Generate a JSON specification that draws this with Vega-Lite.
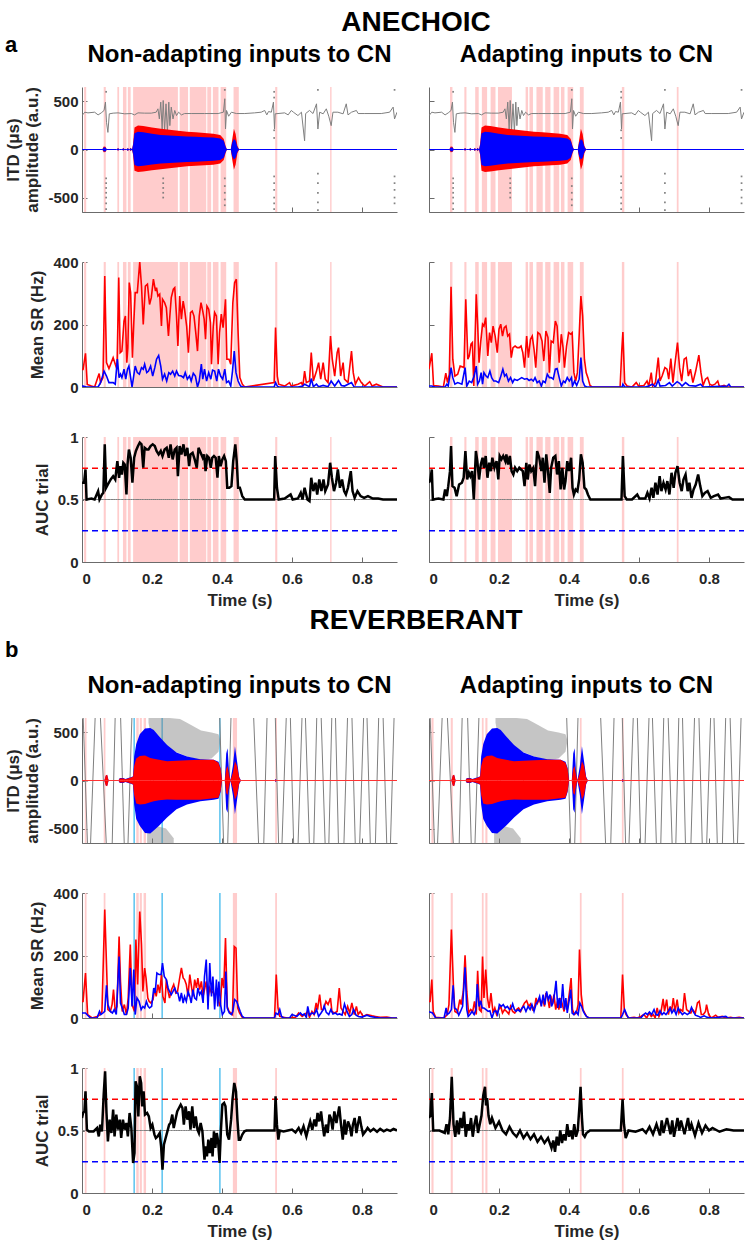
{
"$schema":"https://vega.github.io/schema/vega-lite/v6.json",
"background":"white",
"padding":{"left":4,"top":8,"right":2,"bottom":2},
"config":{
 "view":{"stroke":null},
 "font":"Liberation Sans",
 "title":{"font":"Liberation Sans","fontWeight":"bold","color":"#000000","fontSize":24},
 "axis":{"grid":false,"labelFont":"Liberation Sans","labelFontWeight":"bold","labelFontSize":15,"labelColor":"#262626","titleFont":"Liberation Sans","titleFontWeight":"bold","titleFontSize":17,"titleColor":"#262626","domainColor":"#6b6b6b","tickColor":"#6b6b6b","tickSize":-5,"titlePadding":6},
 "axisY":{"labelPadding":9},
 "axisX":{"labelPadding":14}
},
"datasets":{
"pink_aL":[{"t":0.006,"e":0.012},{"t":0.062,"e":0.068},{"t":0.101,"e":0.106},{"t":0.117,"e":0.127},{"t":0.131,"e":0.139},{"t":0.146,"e":0.274},{"t":0.279,"e":0.303},{"t":0.308,"e":0.355},{"t":0.358,"e":0.369},{"t":0.374,"e":0.390},{"t":0.396,"e":0.412},{"t":0.433,"e":0.448},{"t":0.552,"e":0.558},{"t":0.709,"e":0.713}],
"pink_aR":[{"t":0.060,"e":0.067},{"t":0.101,"e":0.107},{"t":0.132,"e":0.142},{"t":0.151,"e":0.166},{"t":0.176,"e":0.190},{"t":0.197,"e":0.237},{"t":0.276,"e":0.283},{"t":0.287,"e":0.297},{"t":0.307,"e":0.325},{"t":0.332,"e":0.347},{"t":0.356,"e":0.372},{"t":0.377,"e":0.387},{"t":0.396,"e":0.412},{"t":0.431,"e":0.442},{"t":0.551,"e":0.558},{"t":0.708,"e":0.713}],
"pink_bL":[{"t":0.008,"e":0.013},{"t":0.062,"e":0.067},{"t":0.155,"e":0.162},{"t":0.165,"e":0.171},{"t":0.176,"e":0.183},{"t":0.431,"e":0.443},{"t":0.552,"e":0.557}],
"cyan_bL":[{"t":0.147,"e":0.151},{"t":0.227,"e":0.231},{"t":0.392,"e":0.396}],
"pink_bR":[{"t":0.007,"e":0.013},{"t":0.062,"e":0.068},{"t":0.151,"e":0.156},{"t":0.161,"e":0.167},{"t":0.431,"e":0.436},{"t":0.551,"e":0.556}],
"itd_a":[{"t":0.000,"v":353},{"t":0.008,"v":388},{"t":0.017,"v":381},{"t":0.036,"v":388},{"t":0.046,"v":360},{"t":0.055,"v":381},{"t":0.063,"v":406},{"t":0.067,"v":493},{"t":0.070,"v":283},{"t":0.074,"v":178},{"t":0.078,"v":371},{"t":0.089,"v":378},{"t":0.103,"v":381},{"t":0.122,"v":371},{"t":0.141,"v":374},{"t":0.150,"v":360},{"t":0.160,"v":381},{"t":0.179,"v":378},{"t":0.198,"v":378},{"t":0.212,"v":388},{"t":0.217,"v":423},{"t":0.221,"v":318},{"t":0.225,"v":493},{"t":0.229,"v":213},{"t":0.232,"v":510},{"t":0.236,"v":196},{"t":0.240,"v":475},{"t":0.244,"v":178},{"t":0.248,"v":493},{"t":0.251,"v":248},{"t":0.255,"v":441},{"t":0.260,"v":318},{"t":0.265,"v":406},{"t":0.270,"v":353},{"t":0.276,"v":388},{"t":0.284,"v":360},{"t":0.293,"v":374},{"t":0.312,"v":374},{"t":0.350,"v":374},{"t":0.389,"v":374},{"t":0.404,"v":388},{"t":0.408,"v":528},{"t":0.410,"v":213},{"t":0.413,"v":406},{"t":0.419,"v":346},{"t":0.427,"v":388},{"t":0.441,"v":374},{"t":0.465,"v":374},{"t":0.493,"v":381},{"t":0.512,"v":388},{"t":0.522,"v":406},{"t":0.528,"v":360},{"t":0.533,"v":395},{"t":0.541,"v":388},{"t":0.547,"v":493},{"t":0.550,"v":213},{"t":0.552,"v":371},{"t":0.560,"v":374},{"t":0.579,"v":381},{"t":0.589,"v":360},{"t":0.598,"v":406},{"t":0.604,"v":388},{"t":0.617,"v":353},{"t":0.627,"v":388},{"t":0.636,"v":91},{"t":0.639,"v":374},{"t":0.650,"v":406},{"t":0.660,"v":374},{"t":0.670,"v":475},{"t":0.674,"v":213},{"t":0.679,"v":388},{"t":0.689,"v":371},{"t":0.698,"v":423},{"t":0.705,"v":346},{"t":0.712,"v":248},{"t":0.717,"v":388},{"t":0.731,"v":388},{"t":0.746,"v":371},{"t":0.755,"v":475},{"t":0.760,"v":360},{"t":0.770,"v":388},{"t":0.784,"v":406},{"t":0.789,"v":374},{"t":0.808,"v":374},{"t":0.855,"v":374},{"t":0.879,"v":388},{"t":0.889,"v":441},{"t":0.893,"v":318},{"t":0.900,"v":388}],
"dots_a":[{"t":0.069,"v":600},{"t":0.069,"v":-300},{"t":0.069,"v":-350},{"t":0.069,"v":-400},{"t":0.069,"v":-450},{"t":0.069,"v":-500},{"t":0.069,"v":-560},{"t":0.069,"v":-620},{"t":0.232,"v":-300},{"t":0.232,"v":-350},{"t":0.232,"v":-400},{"t":0.232,"v":-450},{"t":0.232,"v":-500},{"t":0.408,"v":620},{"t":0.408,"v":-300},{"t":0.408,"v":-380},{"t":0.408,"v":-450},{"t":0.408,"v":-520},{"t":0.408,"v":-580},{"t":0.549,"v":600},{"t":0.549,"v":540},{"t":0.549,"v":200},{"t":0.549,"v":120},{"t":0.549,"v":-280},{"t":0.549,"v":-350},{"t":0.549,"v":-420},{"t":0.549,"v":-500},{"t":0.549,"v":-560},{"t":0.549,"v":-620},{"t":0.674,"v":620},{"t":0.674,"v":-250},{"t":0.674,"v":-350},{"t":0.674,"v":-450},{"t":0.674,"v":-550},{"t":0.674,"v":-630},{"t":0.893,"v":620},{"t":0.893,"v":-280},{"t":0.893,"v":-350},{"t":0.893,"v":-420},{"t":0.893,"v":-500},{"t":0.893,"v":-560}],
"wave_a":[{"t":0,"r1":0,"r0":0,"b1":0,"b0":0},{"t":0.058,"r1":0,"r0":0,"b1":0,"b0":0},{"t":0.062,"r1":30,"r0":-28,"b1":20,"b0":-18},{"t":0.067,"r1":28,"r0":-26,"b1":22,"b0":-20},{"t":0.071,"r1":0,"r0":0,"b1":0,"b0":0},{"t":0.099,"r1":0,"r0":0,"b1":0,"b0":0},{"t":0.103,"r1":15,"r0":-14,"b1":12,"b0":-11},{"t":0.107,"r1":0,"r0":0,"b1":0,"b0":0},{"t":0.114,"r1":0,"r0":0,"b1":0,"b0":0},{"t":0.118,"r1":15,"r0":-14,"b1":12,"b0":-11},{"t":0.122,"r1":0,"r0":0,"b1":0,"b0":0},{"t":0.127,"r1":0,"r0":0,"b1":0,"b0":0},{"t":0.131,"r1":16,"r0":-15,"b1":13,"b0":-12},{"t":0.135,"r1":0,"r0":0,"b1":0,"b0":0},{"t":0.136,"r1":0,"r0":0,"b1":0,"b0":0},{"t":0.139,"r1":18,"r0":-17,"b1":15,"b0":-14},{"t":0.143,"r1":0,"r0":0,"b1":0,"b0":0},{"t":0.146,"r1":60,"r0":-58,"b1":50,"b0":-48},{"t":0.150,"r1":230,"r0":-220,"b1":170,"b0":-160},{"t":0.160,"r1":250,"r0":-235,"b1":185,"b0":-175},{"t":0.175,"r1":245,"r0":-230,"b1":180,"b0":-170},{"t":0.200,"r1":230,"r0":-215,"b1":165,"b0":-155},{"t":0.225,"r1":215,"r0":-205,"b1":150,"b0":-145},{"t":0.250,"r1":205,"r0":-195,"b1":145,"b0":-140},{"t":0.275,"r1":195,"r0":-185,"b1":140,"b0":-135},{"t":0.300,"r1":185,"r0":-175,"b1":135,"b0":-130},{"t":0.325,"r1":180,"r0":-170,"b1":132,"b0":-128},{"t":0.350,"r1":172,"r0":-165,"b1":128,"b0":-122},{"t":0.375,"r1":165,"r0":-158,"b1":125,"b0":-118},{"t":0.395,"r1":150,"r0":-145,"b1":115,"b0":-110},{"t":0.405,"r1":110,"r0":-110,"b1":90,"b0":-85},{"t":0.410,"r1":40,"r0":-40,"b1":30,"b0":-30},{"t":0.414,"r1":0,"r0":0,"b1":0,"b0":0},{"t":0.425,"r1":0,"r0":0,"b1":0,"b0":0},{"t":0.429,"r1":100,"r0":-100,"b1":70,"b0":-70},{"t":0.434,"r1":215,"r0":-210,"b1":110,"b0":-105},{"t":0.439,"r1":160,"r0":-155,"b1":90,"b0":-85},{"t":0.444,"r1":40,"r0":-40,"b1":25,"b0":-25},{"t":0.449,"r1":0,"r0":0,"b1":0,"b0":0},{"t":0.9,"r1":0,"r0":0,"b1":0,"b0":0}],
"wave_b":[{"t":0,"r1":0,"r0":0,"b1":0,"b0":0},{"t":0.064,"r1":0,"r0":0,"b1":0,"b0":0},{"t":0.068,"r1":55,"r0":-55,"b1":50,"b0":-50},{"t":0.072,"r1":60,"r0":-60,"b1":55,"b0":-55},{"t":0.076,"r1":0,"r0":0,"b1":0,"b0":0},{"t":0.104,"r1":0,"r0":0,"b1":0,"b0":0},{"t":0.108,"r1":20,"r0":-20,"b1":25,"b0":-25},{"t":0.118,"r1":22,"r0":-22,"b1":27,"b0":-27},{"t":0.124,"r1":12,"r0":-12,"b1":15,"b0":-15},{"t":0.132,"r1":20,"r0":-20,"b1":25,"b0":-25},{"t":0.140,"r1":30,"r0":-30,"b1":35,"b0":-35},{"t":0.146,"r1":40,"r0":-40,"b1":45,"b0":-45},{"t":0.149,"r1":150,"r0":-150,"b1":250,"b0":-250},{"t":0.155,"r1":230,"r0":-240,"b1":380,"b0":-400},{"t":0.165,"r1":255,"r0":-250,"b1":480,"b0":-470},{"t":0.180,"r1":260,"r0":-245,"b1":540,"b0":-545},{"t":0.195,"r1":235,"r0":-225,"b1":545,"b0":-550},{"t":0.205,"r1":225,"r0":-215,"b1":525,"b0":-520},{"t":0.220,"r1":215,"r0":-205,"b1":460,"b0":-470},{"t":0.243,"r1":200,"r0":-197,"b1":370,"b0":-385},{"t":0.270,"r1":205,"r0":-200,"b1":290,"b0":-300},{"t":0.300,"r1":210,"r0":-200,"b1":250,"b0":-250},{"t":0.338,"r1":217,"r0":-200,"b1":220,"b0":-215},{"t":0.376,"r1":215,"r0":-185,"b1":215,"b0":-200},{"t":0.390,"r1":185,"r0":-180,"b1":195,"b0":-190},{"t":0.396,"r1":120,"r0":-110,"b1":130,"b0":-120},{"t":0.400,"r1":0,"r0":0,"b1":0,"b0":0},{"t":0.408,"r1":0,"r0":0,"b1":0,"b0":0},{"t":0.412,"r1":120,"r0":-130,"b1":280,"b0":-300},{"t":0.416,"r1":150,"r0":-150,"b1":335,"b0":-335},{"t":0.420,"r1":60,"r0":-60,"b1":100,"b0":-100},{"t":0.424,"r1":0,"r0":0,"b1":0,"b0":0},{"t":0.431,"r1":80,"r0":-80,"b1":150,"b0":-150},{"t":0.437,"r1":200,"r0":-200,"b1":355,"b0":-350},{"t":0.443,"r1":150,"r0":-150,"b1":200,"b0":-200},{"t":0.449,"r1":30,"r0":-30,"b1":40,"b0":-40},{"t":0.454,"r1":0,"r0":0,"b1":0,"b0":0},{"t":0.550,"r1":0,"r0":0,"b1":0,"b0":0},{"t":0.553,"r1":10,"r0":-10,"b1":15,"b0":-15},{"t":0.557,"r1":0,"r0":0,"b1":0,"b0":0},{"t":0.9,"r1":0,"r0":0,"b1":0,"b0":0}],
"itd_b_seg":[{"g":1,"t":0.003,"v":700},{"g":1,"t":0.016,"v":-700},{"g":2,"t":0.024,"v":-700},{"g":2,"t":0.038,"v":700},{"g":3,"t":0.052,"v":700},{"g":3,"t":0.070,"v":-700},{"g":4,"t":0.086,"v":-700},{"g":4,"t":0.095,"v":700},{"g":5,"t":0.110,"v":700},{"g":5,"t":0.121,"v":-700},{"g":6,"t":0.131,"v":-700},{"g":6,"t":0.143,"v":700},{"g":7,"t":0.393,"v":700},{"g":7,"t":0.405,"v":-700},{"g":8,"t":0.416,"v":-700},{"g":8,"t":0.426,"v":700},{"g":9,"t":0.490,"v":700},{"g":9,"t":0.505,"v":-700},{"g":10,"t":0.519,"v":-700},{"g":10,"t":0.529,"v":700},{"g":11,"t":0.552,"v":700},{"g":11,"t":0.562,"v":-700},{"g":12,"t":0.571,"v":-700},{"g":12,"t":0.584,"v":700},{"g":13,"t":0.595,"v":700},{"g":13,"t":0.605,"v":-700},{"g":14,"t":0.617,"v":-700},{"g":14,"t":0.629,"v":700},{"g":15,"t":0.638,"v":700},{"g":15,"t":0.650,"v":-700},{"g":16,"t":0.662,"v":-700},{"g":16,"t":0.671,"v":700},{"g":17,"t":0.683,"v":700},{"g":17,"t":0.695,"v":-700},{"g":18,"t":0.705,"v":-700},{"g":18,"t":0.714,"v":700},{"g":19,"t":0.724,"v":700},{"g":19,"t":0.733,"v":-700},{"g":20,"t":0.748,"v":-700},{"g":20,"t":0.759,"v":700},{"g":21,"t":0.771,"v":700},{"g":21,"t":0.781,"v":-700},{"g":22,"t":0.793,"v":-700},{"g":22,"t":0.805,"v":700},{"g":23,"t":0.814,"v":700},{"g":23,"t":0.824,"v":-700},{"g":24,"t":0.838,"v":-700},{"g":24,"t":0.848,"v":700},{"g":25,"t":0.860,"v":700},{"g":25,"t":0.871,"v":-700},{"g":26,"t":0.881,"v":-700},{"g":26,"t":0.892,"v":700}],
"itd_b_band":[{"g":"top","t":0.190,"hi":650,"lo":600},{"g":"top","t":0.200,"hi":650,"lo":390},{"g":"top","t":0.220,"hi":650,"lo":370},{"g":"top","t":0.250,"hi":650,"lo":320},{"g":"top","t":0.280,"hi":640,"lo":280},{"g":"top","t":0.300,"hi":600,"lo":250},{"g":"top","t":0.340,"hi":520,"lo":210},{"g":"top","t":0.370,"hi":500,"lo":230},{"g":"top","t":0.390,"hi":480,"lo":300},{"g":"top","t":0.395,"hi":420,"lo":400},{"g":"bot","t":0.186,"hi":-460,"lo":-650},{"g":"bot","t":0.210,"hi":-470,"lo":-650},{"g":"bot","t":0.240,"hi":-500,"lo":-650},{"g":"bot","t":0.262,"hi":-600,"lo":-650}],
"sr_aL_r":[{"t":0,"v":56},{"t":0.003,"v":56},{"t":0.010,"v":108},{"t":0.015,"v":8},{"t":0.027,"v":3},{"t":0.036,"v":0},{"t":0.049,"v":43},{"t":0.053,"v":14},{"t":0.060,"v":30},{"t":0.065,"v":355},{"t":0.070,"v":78},{"t":0.077,"v":59},{"t":0.089,"v":94},{"t":0.095,"v":73},{"t":0.100,"v":57},{"t":0.105,"v":350},{"t":0.109,"v":110},{"t":0.114,"v":115},{"t":0.120,"v":211},{"t":0.124,"v":227},{"t":0.128,"v":78},{"t":0.131,"v":126},{"t":0.135,"v":334},{"t":0.139,"v":302},{"t":0.144,"v":94},{"t":0.148,"v":206},{"t":0.152,"v":302},{"t":0.158,"v":302},{"t":0.165,"v":400},{"t":0.170,"v":323},{"t":0.175,"v":200},{"t":0.181,"v":323},{"t":0.187,"v":329},{"t":0.193,"v":264},{"t":0.198,"v":286},{"t":0.204,"v":345},{"t":0.210,"v":307},{"t":0.213,"v":318},{"t":0.217,"v":291},{"t":0.222,"v":297},{"t":0.227,"v":195},{"t":0.230,"v":281},{"t":0.236,"v":270},{"t":0.241,"v":254},{"t":0.247,"v":163},{"t":0.251,"v":227},{"t":0.255,"v":286},{"t":0.261,"v":313},{"t":0.265,"v":318},{"t":0.270,"v":227},{"t":0.274,"v":131},{"t":0.279,"v":291},{"t":0.284,"v":217},{"t":0.289,"v":275},{"t":0.293,"v":249},{"t":0.299,"v":195},{"t":0.304,"v":110},{"t":0.310,"v":238},{"t":0.315,"v":243},{"t":0.320,"v":227},{"t":0.325,"v":174},{"t":0.330,"v":115},{"t":0.335,"v":227},{"t":0.340,"v":270},{"t":0.345,"v":243},{"t":0.349,"v":217},{"t":0.353,"v":153},{"t":0.357,"v":259},{"t":0.362,"v":249},{"t":0.367,"v":206},{"t":0.370,"v":73},{"t":0.375,"v":195},{"t":0.379,"v":238},{"t":0.384,"v":227},{"t":0.389,"v":73},{"t":0.393,"v":174},{"t":0.398,"v":233},{"t":0.403,"v":190},{"t":0.407,"v":238},{"t":0.410,"v":281},{"t":0.414,"v":89},{"t":0.420,"v":89},{"t":0.425,"v":73},{"t":0.431,"v":270},{"t":0.436,"v":334},{"t":0.441,"v":345},{"t":0.446,"v":174},{"t":0.451,"v":30},{"t":0.458,"v":9},{"t":0.465,"v":0},{"t":0.549,"v":14},{"t":0.553,"v":190},{"t":0.558,"v":35},{"t":0.562,"v":9},{"t":0.579,"v":3},{"t":0.593,"v":14},{"t":0.598,"v":3},{"t":0.617,"v":9},{"t":0.627,"v":14},{"t":0.631,"v":3},{"t":0.636,"v":51},{"t":0.641,"v":14},{"t":0.650,"v":19},{"t":0.655,"v":110},{"t":0.661,"v":19},{"t":0.670,"v":51},{"t":0.676,"v":78},{"t":0.682,"v":25},{"t":0.689,"v":78},{"t":0.695,"v":25},{"t":0.703,"v":14},{"t":0.710,"v":163},{"t":0.715,"v":89},{"t":0.722,"v":35},{"t":0.729,"v":110},{"t":0.733,"v":126},{"t":0.739,"v":35},{"t":0.746,"v":78},{"t":0.750,"v":25},{"t":0.760,"v":14},{"t":0.770,"v":115},{"t":0.775,"v":46},{"t":0.781,"v":9},{"t":0.790,"v":30},{"t":0.798,"v":14},{"t":0.808,"v":3},{"t":0.822,"v":17},{"t":0.829,"v":3},{"t":0.841,"v":9},{"t":0.850,"v":5},{"t":0.860,"v":0},{"t":0.900,"v":0}],
"sr_aL_b":[{"t":0,"v":3},{"t":0.003,"v":3},{"t":0.012,"v":0},{"t":0.046,"v":0},{"t":0.053,"v":14},{"t":0.063,"v":51},{"t":0.070,"v":35},{"t":0.077,"v":14},{"t":0.089,"v":14},{"t":0.095,"v":9},{"t":0.101,"v":89},{"t":0.106,"v":30},{"t":0.110,"v":41},{"t":0.114,"v":30},{"t":0.120,"v":57},{"t":0.125,"v":25},{"t":0.130,"v":57},{"t":0.134,"v":67},{"t":0.139,"v":30},{"t":0.143,"v":0},{"t":0.147,"v":30},{"t":0.152,"v":67},{"t":0.158,"v":46},{"t":0.164,"v":41},{"t":0.170,"v":62},{"t":0.175,"v":57},{"t":0.179,"v":73},{"t":0.185,"v":46},{"t":0.190,"v":51},{"t":0.196,"v":67},{"t":0.202,"v":35},{"t":0.208,"v":62},{"t":0.213,"v":89},{"t":0.219,"v":101},{"t":0.225,"v":67},{"t":0.230,"v":25},{"t":0.236,"v":41},{"t":0.242,"v":19},{"t":0.248,"v":46},{"t":0.253,"v":41},{"t":0.259,"v":51},{"t":0.265,"v":35},{"t":0.270,"v":51},{"t":0.276,"v":37},{"t":0.284,"v":35},{"t":0.290,"v":30},{"t":0.295,"v":46},{"t":0.301,"v":25},{"t":0.307,"v":35},{"t":0.312,"v":19},{"t":0.318,"v":44},{"t":0.324,"v":35},{"t":0.330,"v":0},{"t":0.335,"v":19},{"t":0.341,"v":73},{"t":0.345,"v":25},{"t":0.350,"v":57},{"t":0.356,"v":19},{"t":0.362,"v":46},{"t":0.368,"v":25},{"t":0.373,"v":54},{"t":0.379,"v":51},{"t":0.385,"v":19},{"t":0.390,"v":57},{"t":0.396,"v":35},{"t":0.402,"v":25},{"t":0.408,"v":57},{"t":0.413,"v":14},{"t":0.419,"v":19},{"t":0.425,"v":3},{"t":0.430,"v":51},{"t":0.435,"v":115},{"t":0.440,"v":46},{"t":0.446,"v":19},{"t":0.453,"v":3},{"t":0.460,"v":0},{"t":0.549,"v":0},{"t":0.553,"v":14},{"t":0.558,"v":3},{"t":0.562,"v":0},{"t":0.617,"v":0},{"t":0.631,"v":3},{"t":0.636,"v":9},{"t":0.650,"v":1},{"t":0.655,"v":27},{"t":0.661,"v":1},{"t":0.670,"v":9},{"t":0.676,"v":1},{"t":0.689,"v":5},{"t":0.703,"v":1},{"t":0.712,"v":19},{"t":0.722,"v":3},{"t":0.733,"v":21},{"t":0.741,"v":5},{"t":0.750,"v":3},{"t":0.770,"v":14},{"t":0.777,"v":1},{"t":0.789,"v":0},{"t":0.900,"v":0}],
"auc_aL":[{"t":0.000,"v":0.634},{"t":0.006,"v":0.634},{"t":0.010,"v":0.74},{"t":0.013,"v":0.5},{"t":0.027,"v":0.508},{"t":0.036,"v":0.5},{"t":0.046,"v":0.567},{"t":0.050,"v":0.5},{"t":0.057,"v":0.54},{"t":0.061,"v":0.553},{"t":0.065,"v":0.941},{"t":0.069,"v":0.594},{"t":0.074,"v":0.62},{"t":0.082,"v":0.66},{"t":0.089,"v":0.687},{"t":0.095,"v":0.66},{"t":0.101,"v":0.807},{"t":0.106,"v":0.674},{"t":0.110,"v":0.767},{"t":0.114,"v":0.70},{"t":0.118,"v":0.794},{"t":0.122,"v":0.78},{"t":0.127,"v":0.54},{"t":0.130,"v":0.78},{"t":0.134,"v":0.90},{"t":0.139,"v":0.834},{"t":0.144,"v":0.634},{"t":0.149,"v":0.834},{"t":0.154,"v":0.888},{"t":0.160,"v":0.928},{"t":0.165,"v":0.955},{"t":0.170,"v":0.941},{"t":0.175,"v":0.754},{"t":0.179,"v":0.914},{"t":0.185,"v":0.90},{"t":0.190,"v":0.90},{"t":0.196,"v":0.928},{"t":0.202,"v":0.941},{"t":0.208,"v":0.928},{"t":0.213,"v":0.888},{"t":0.219,"v":0.861},{"t":0.225,"v":0.888},{"t":0.230,"v":0.848},{"t":0.236,"v":0.90},{"t":0.242,"v":0.914},{"t":0.248,"v":0.834},{"t":0.253,"v":0.941},{"t":0.259,"v":0.821},{"t":0.265,"v":0.90},{"t":0.270,"v":0.914},{"t":0.274,"v":0.687},{"t":0.279,"v":0.928},{"t":0.284,"v":0.861},{"t":0.290,"v":0.941},{"t":0.295,"v":0.848},{"t":0.301,"v":0.914},{"t":0.306,"v":0.767},{"t":0.310,"v":0.861},{"t":0.316,"v":0.874},{"t":0.322,"v":0.821},{"t":0.328,"v":0.754},{"t":0.333,"v":0.914},{"t":0.339,"v":0.874},{"t":0.345,"v":0.834},{"t":0.349,"v":0.861},{"t":0.353,"v":0.727},{"t":0.358,"v":0.848},{"t":0.363,"v":0.834},{"t":0.368,"v":0.754},{"t":0.372,"v":0.834},{"t":0.377,"v":0.848},{"t":0.382,"v":0.834},{"t":0.387,"v":0.674},{"t":0.391,"v":0.848},{"t":0.396,"v":0.767},{"t":0.401,"v":0.821},{"t":0.406,"v":0.848},{"t":0.411,"v":0.807},{"t":0.415,"v":0.594},{"t":0.421,"v":0.594},{"t":0.427,"v":0.607},{"t":0.432,"v":0.807},{"t":0.438,"v":0.941},{"t":0.442,"v":0.807},{"t":0.446,"v":0.594},{"t":0.451,"v":0.594},{"t":0.458,"v":0.527},{"t":0.465,"v":0.5},{"t":0.549,"v":0.5},{"t":0.552,"v":0.848},{"t":0.557,"v":0.594},{"t":0.562,"v":0.5},{"t":0.579,"v":0.508},{"t":0.596,"v":0.54},{"t":0.602,"v":0.5},{"t":0.617,"v":0.508},{"t":0.625,"v":0.553},{"t":0.630,"v":0.5},{"t":0.636,"v":0.594},{"t":0.644,"v":0.5},{"t":0.650,"v":0.487},{"t":0.655,"v":0.674},{"t":0.661,"v":0.567},{"t":0.667,"v":0.634},{"t":0.672,"v":0.54},{"t":0.678,"v":0.66},{"t":0.684,"v":0.567},{"t":0.690,"v":0.66},{"t":0.695,"v":0.567},{"t":0.703,"v":0.62},{"t":0.709,"v":0.794},{"t":0.714,"v":0.674},{"t":0.720,"v":0.567},{"t":0.726,"v":0.634},{"t":0.731,"v":0.74},{"t":0.737,"v":0.594},{"t":0.743,"v":0.66},{"t":0.749,"v":0.567},{"t":0.754,"v":0.54},{"t":0.760,"v":0.594},{"t":0.768,"v":0.727},{"t":0.773,"v":0.567},{"t":0.779,"v":0.513},{"t":0.787,"v":0.567},{"t":0.796,"v":0.527},{"t":0.806,"v":0.513},{"t":0.817,"v":0.527},{"t":0.831,"v":0.508},{"t":0.846,"v":0.508},{"t":0.860,"v":0.5},{"t":0.900,"v":0.5}],
"sr_aR_r":[{"t":0,"v":57},{"t":0.008,"v":108},{"t":0.013,"v":5},{"t":0.027,"v":3},{"t":0.041,"v":0},{"t":0.048,"v":44},{"t":0.053,"v":14},{"t":0.058,"v":41},{"t":0.063,"v":321},{"t":0.068,"v":89},{"t":0.074,"v":35},{"t":0.082,"v":41},{"t":0.089,"v":67},{"t":0.095,"v":65},{"t":0.100,"v":62},{"t":0.105,"v":281},{"t":0.111,"v":89},{"t":0.115,"v":99},{"t":0.120,"v":137},{"t":0.124,"v":142},{"t":0.128,"v":3},{"t":0.135,"v":297},{"t":0.139,"v":201},{"t":0.143,"v":78},{"t":0.148,"v":147},{"t":0.153,"v":201},{"t":0.157,"v":195},{"t":0.162,"v":222},{"t":0.168,"v":99},{"t":0.173,"v":174},{"t":0.178,"v":142},{"t":0.183,"v":195},{"t":0.189,"v":163},{"t":0.195,"v":110},{"t":0.200,"v":185},{"t":0.205,"v":201},{"t":0.210,"v":163},{"t":0.215,"v":190},{"t":0.220,"v":195},{"t":0.225,"v":163},{"t":0.230,"v":169},{"t":0.235,"v":94},{"t":0.240,"v":126},{"t":0.246,"v":131},{"t":0.252,"v":126},{"t":0.258,"v":126},{"t":0.263,"v":131},{"t":0.268,"v":110},{"t":0.273,"v":62},{"t":0.279,"v":163},{"t":0.284,"v":94},{"t":0.290,"v":153},{"t":0.295,"v":163},{"t":0.300,"v":121},{"t":0.305,"v":62},{"t":0.311,"v":174},{"t":0.317,"v":169},{"t":0.323,"v":147},{"t":0.328,"v":83},{"t":0.334,"v":179},{"t":0.340,"v":158},{"t":0.344,"v":46},{"t":0.349,"v":147},{"t":0.355,"v":142},{"t":0.361,"v":211},{"t":0.366,"v":195},{"t":0.372,"v":78},{"t":0.378,"v":169},{"t":0.383,"v":126},{"t":0.387,"v":62},{"t":0.393,"v":131},{"t":0.399,"v":174},{"t":0.405,"v":169},{"t":0.409,"v":174},{"t":0.414,"v":46},{"t":0.419,"v":19},{"t":0.424,"v":46},{"t":0.429,"v":163},{"t":0.434,"v":291},{"t":0.439,"v":227},{"t":0.444,"v":89},{"t":0.449,"v":46},{"t":0.454,"v":30},{"t":0.460,"v":5},{"t":0.466,"v":0},{"t":0.546,"v":0},{"t":0.551,"v":121},{"t":0.554,"v":176},{"t":0.559,"v":14},{"t":0.566,"v":3},{"t":0.580,"v":0},{"t":0.592,"v":14},{"t":0.599,"v":3},{"t":0.614,"v":5},{"t":0.623,"v":19},{"t":0.628,"v":3},{"t":0.635,"v":46},{"t":0.639,"v":3},{"t":0.647,"v":14},{"t":0.655,"v":94},{"t":0.660,"v":19},{"t":0.666,"v":35},{"t":0.674,"v":62},{"t":0.680,"v":57},{"t":0.685,"v":25},{"t":0.691,"v":91},{"t":0.697,"v":14},{"t":0.702,"v":67},{"t":0.710,"v":142},{"t":0.716,"v":62},{"t":0.722,"v":19},{"t":0.729,"v":89},{"t":0.735,"v":94},{"t":0.741,"v":35},{"t":0.747,"v":57},{"t":0.754,"v":14},{"t":0.762,"v":51},{"t":0.771,"v":102},{"t":0.777,"v":46},{"t":0.783,"v":5},{"t":0.790,"v":25},{"t":0.796,"v":30},{"t":0.802,"v":9},{"t":0.809,"v":5},{"t":0.817,"v":9},{"t":0.825,"v":19},{"t":0.830,"v":1},{"t":0.843,"v":5},{"t":0.852,"v":0},{"t":0.900,"v":0}],
"sr_aR_b":[{"t":0,"v":3},{"t":0.008,"v":3},{"t":0.017,"v":0},{"t":0.046,"v":0},{"t":0.051,"v":9},{"t":0.055,"v":3},{"t":0.063,"v":62},{"t":0.068,"v":30},{"t":0.074,"v":9},{"t":0.082,"v":14},{"t":0.094,"v":9},{"t":0.103,"v":62},{"t":0.108,"v":3},{"t":0.115,"v":19},{"t":0.122,"v":14},{"t":0.129,"v":35},{"t":0.135,"v":67},{"t":0.139,"v":9},{"t":0.144,"v":19},{"t":0.149,"v":46},{"t":0.153,"v":9},{"t":0.157,"v":46},{"t":0.163,"v":35},{"t":0.168,"v":30},{"t":0.174,"v":51},{"t":0.179,"v":30},{"t":0.185,"v":19},{"t":0.191,"v":19},{"t":0.199,"v":14},{"t":0.204,"v":30},{"t":0.211,"v":57},{"t":0.216,"v":35},{"t":0.221,"v":41},{"t":0.227,"v":19},{"t":0.233,"v":30},{"t":0.239,"v":14},{"t":0.244,"v":25},{"t":0.252,"v":21},{"t":0.258,"v":25},{"t":0.265,"v":30},{"t":0.273,"v":25},{"t":0.280,"v":27},{"t":0.286,"v":21},{"t":0.292,"v":25},{"t":0.298,"v":19},{"t":0.303,"v":30},{"t":0.309,"v":14},{"t":0.315,"v":19},{"t":0.321,"v":3},{"t":0.326,"v":19},{"t":0.332,"v":14},{"t":0.338,"v":41},{"t":0.344,"v":30},{"t":0.349,"v":30},{"t":0.355,"v":25},{"t":0.361,"v":57},{"t":0.366,"v":59},{"t":0.372,"v":30},{"t":0.378,"v":3},{"t":0.384,"v":19},{"t":0.389,"v":14},{"t":0.395,"v":30},{"t":0.401,"v":19},{"t":0.407,"v":30},{"t":0.410,"v":3},{"t":0.416,"v":19},{"t":0.422,"v":5},{"t":0.429,"v":25},{"t":0.434,"v":94},{"t":0.439,"v":19},{"t":0.445,"v":3},{"t":0.451,"v":0},{"t":0.552,"v":0},{"t":0.554,"v":9},{"t":0.559,"v":0},{"t":0.618,"v":0},{"t":0.628,"v":3},{"t":0.638,"v":9},{"t":0.647,"v":0},{"t":0.655,"v":22},{"t":0.660,"v":3},{"t":0.676,"v":5},{"t":0.687,"v":14},{"t":0.695,"v":3},{"t":0.709,"v":17},{"t":0.716,"v":12},{"t":0.723,"v":3},{"t":0.733,"v":14},{"t":0.743,"v":5},{"t":0.762,"v":3},{"t":0.776,"v":9},{"t":0.783,"v":0},{"t":0.852,"v":3},{"t":0.857,"v":9},{"t":0.862,"v":0},{"t":0.900,"v":0}],
"auc_aR":[{"t":0,"v":0.634},{"t":0.004,"v":0.66},{"t":0.008,"v":0.74},{"t":0.011,"v":0.5},{"t":0.027,"v":0.508},{"t":0.041,"v":0.5},{"t":0.046,"v":0.58},{"t":0.051,"v":0.527},{"t":0.055,"v":0.607},{"t":0.060,"v":0.727},{"t":0.063,"v":0.928},{"t":0.067,"v":0.607},{"t":0.073,"v":0.594},{"t":0.079,"v":0.527},{"t":0.086,"v":0.62},{"t":0.094,"v":0.634},{"t":0.099,"v":0.674},{"t":0.104,"v":0.888},{"t":0.109,"v":0.66},{"t":0.114,"v":0.714},{"t":0.118,"v":0.687},{"t":0.123,"v":0.727},{"t":0.128,"v":0.5},{"t":0.134,"v":0.888},{"t":0.138,"v":0.807},{"t":0.143,"v":0.66},{"t":0.148,"v":0.78},{"t":0.153,"v":0.834},{"t":0.157,"v":0.754},{"t":0.162,"v":0.848},{"t":0.167,"v":0.674},{"t":0.172,"v":0.794},{"t":0.177,"v":0.727},{"t":0.181,"v":0.834},{"t":0.187,"v":0.754},{"t":0.193,"v":0.807},{"t":0.198,"v":0.66},{"t":0.202,"v":0.848},{"t":0.207,"v":0.821},{"t":0.212,"v":0.848},{"t":0.218,"v":0.807},{"t":0.221,"v":0.861},{"t":0.226,"v":0.78},{"t":0.231,"v":0.848},{"t":0.236,"v":0.727},{"t":0.241,"v":0.70},{"t":0.246,"v":0.754},{"t":0.252,"v":0.727},{"t":0.258,"v":0.754},{"t":0.263,"v":0.74},{"t":0.268,"v":0.727},{"t":0.273,"v":0.607},{"t":0.278,"v":0.794},{"t":0.282,"v":0.66},{"t":0.287,"v":0.78},{"t":0.292,"v":0.727},{"t":0.298,"v":0.754},{"t":0.303,"v":0.607},{"t":0.309,"v":0.888},{"t":0.315,"v":0.834},{"t":0.321,"v":0.727},{"t":0.325,"v":0.834},{"t":0.330,"v":0.634},{"t":0.335,"v":0.861},{"t":0.340,"v":0.727},{"t":0.345,"v":0.553},{"t":0.349,"v":0.754},{"t":0.355,"v":0.834},{"t":0.361,"v":0.848},{"t":0.366,"v":0.70},{"t":0.371,"v":0.807},{"t":0.376,"v":0.58},{"t":0.381,"v":0.754},{"t":0.386,"v":0.58},{"t":0.390,"v":0.647},{"t":0.395,"v":0.807},{"t":0.400,"v":0.727},{"t":0.406,"v":0.834},{"t":0.410,"v":0.594},{"t":0.414,"v":0.54},{"t":0.419,"v":0.58},{"t":0.424,"v":0.567},{"t":0.429,"v":0.66},{"t":0.434,"v":0.861},{"t":0.439,"v":0.794},{"t":0.444,"v":0.594},{"t":0.449,"v":0.58},{"t":0.454,"v":0.54},{"t":0.461,"v":0.5},{"t":0.550,"v":0.5},{"t":0.554,"v":0.848},{"t":0.559,"v":0.527},{"t":0.565,"v":0.5},{"t":0.580,"v":0.5},{"t":0.595,"v":0.54},{"t":0.601,"v":0.508},{"t":0.618,"v":0.508},{"t":0.624,"v":0.553},{"t":0.630,"v":0.508},{"t":0.636,"v":0.594},{"t":0.641,"v":0.513},{"t":0.647,"v":0.634},{"t":0.653,"v":0.54},{"t":0.659,"v":0.687},{"t":0.664,"v":0.567},{"t":0.670,"v":0.634},{"t":0.676,"v":0.58},{"t":0.681,"v":0.647},{"t":0.687,"v":0.54},{"t":0.693,"v":0.714},{"t":0.699,"v":0.594},{"t":0.704,"v":0.714},{"t":0.710,"v":0.767},{"t":0.716,"v":0.634},{"t":0.722,"v":0.567},{"t":0.727,"v":0.66},{"t":0.733,"v":0.70},{"t":0.739,"v":0.567},{"t":0.744,"v":0.634},{"t":0.750,"v":0.513},{"t":0.756,"v":0.58},{"t":0.762,"v":0.62},{"t":0.769,"v":0.70},{"t":0.775,"v":0.607},{"t":0.781,"v":0.527},{"t":0.788,"v":0.553},{"t":0.796,"v":0.567},{"t":0.805,"v":0.513},{"t":0.814,"v":0.527},{"t":0.826,"v":0.54},{"t":0.833,"v":0.508},{"t":0.843,"v":0.513},{"t":0.857,"v":0.519},{"t":0.867,"v":0.5},{"t":0.900,"v":0.5}],
"sr_bL_r":[{"t":0,"v":53},{"t":0.003,"v":53},{"t":0.010,"v":144},{"t":0.016,"v":11},{"t":0.029,"v":0},{"t":0.043,"v":5},{"t":0.052,"v":11},{"t":0.057,"v":21},{"t":0.065,"v":347},{"t":0.070,"v":171},{"t":0.074,"v":27},{"t":0.081,"v":21},{"t":0.086,"v":43},{"t":0.090,"v":91},{"t":0.095,"v":21},{"t":0.100,"v":37},{"t":0.106,"v":261},{"t":0.110,"v":117},{"t":0.115,"v":21},{"t":0.121,"v":43},{"t":0.127,"v":11},{"t":0.132,"v":64},{"t":0.138,"v":235},{"t":0.143,"v":43},{"t":0.150,"v":21},{"t":0.154,"v":251},{"t":0.159,"v":107},{"t":0.165,"v":341},{"t":0.170,"v":235},{"t":0.174,"v":85},{"t":0.179,"v":160},{"t":0.183,"v":128},{"t":0.188,"v":64},{"t":0.192,"v":53},{"t":0.197,"v":48},{"t":0.203,"v":59},{"t":0.208,"v":96},{"t":0.212,"v":69},{"t":0.217,"v":107},{"t":0.222,"v":80},{"t":0.227,"v":139},{"t":0.231,"v":69},{"t":0.237,"v":48},{"t":0.241,"v":123},{"t":0.246,"v":85},{"t":0.250,"v":64},{"t":0.256,"v":91},{"t":0.262,"v":107},{"t":0.268,"v":80},{"t":0.273,"v":85},{"t":0.279,"v":128},{"t":0.284,"v":160},{"t":0.289,"v":128},{"t":0.293,"v":123},{"t":0.298,"v":107},{"t":0.303,"v":69},{"t":0.308,"v":139},{"t":0.312,"v":107},{"t":0.317,"v":69},{"t":0.322,"v":123},{"t":0.327,"v":96},{"t":0.331,"v":128},{"t":0.336,"v":91},{"t":0.341,"v":117},{"t":0.346,"v":69},{"t":0.350,"v":91},{"t":0.355,"v":117},{"t":0.360,"v":64},{"t":0.365,"v":96},{"t":0.370,"v":80},{"t":0.374,"v":85},{"t":0.380,"v":69},{"t":0.386,"v":96},{"t":0.390,"v":53},{"t":0.395,"v":37},{"t":0.400,"v":128},{"t":0.405,"v":96},{"t":0.410,"v":256},{"t":0.415,"v":37},{"t":0.420,"v":21},{"t":0.426,"v":16},{"t":0.430,"v":11},{"t":0.435,"v":229},{"t":0.440,"v":224},{"t":0.445,"v":32},{"t":0.450,"v":16},{"t":0.458,"v":2},{"t":0.464,"v":0},{"t":0.550,"v":0},{"t":0.555,"v":139},{"t":0.560,"v":32},{"t":0.565,"v":5},{"t":0.586,"v":0},{"t":0.610,"v":2},{"t":0.619,"v":16},{"t":0.629,"v":5},{"t":0.638,"v":13},{"t":0.645,"v":21},{"t":0.650,"v":2},{"t":0.657,"v":21},{"t":0.663,"v":11},{"t":0.669,"v":48},{"t":0.673,"v":27},{"t":0.679,"v":75},{"t":0.684,"v":27},{"t":0.690,"v":27},{"t":0.697,"v":53},{"t":0.703,"v":43},{"t":0.710,"v":64},{"t":0.714,"v":21},{"t":0.721,"v":16},{"t":0.729,"v":21},{"t":0.735,"v":96},{"t":0.740,"v":32},{"t":0.746,"v":21},{"t":0.752,"v":11},{"t":0.759,"v":37},{"t":0.765,"v":16},{"t":0.771,"v":48},{"t":0.778,"v":11},{"t":0.784,"v":37},{"t":0.789,"v":11},{"t":0.795,"v":21},{"t":0.803,"v":5},{"t":0.814,"v":11},{"t":0.829,"v":7},{"t":0.838,"v":5},{"t":0.852,"v":2},{"t":0.871,"v":3},{"t":0.886,"v":0},{"t":0.900,"v":0}],
"sr_bL_b":[{"t":0,"v":16},{"t":0.003,"v":16},{"t":0.010,"v":16},{"t":0.016,"v":9},{"t":0.024,"v":0},{"t":0.043,"v":0},{"t":0.050,"v":21},{"t":0.054,"v":11},{"t":0.060,"v":16},{"t":0.065,"v":21},{"t":0.070,"v":105},{"t":0.074,"v":43},{"t":0.081,"v":21},{"t":0.087,"v":16},{"t":0.092,"v":27},{"t":0.098,"v":11},{"t":0.106,"v":197},{"t":0.110,"v":48},{"t":0.115,"v":32},{"t":0.121,"v":11},{"t":0.127,"v":11},{"t":0.132,"v":32},{"t":0.138,"v":160},{"t":0.143,"v":37},{"t":0.148,"v":155},{"t":0.152,"v":11},{"t":0.157,"v":64},{"t":0.163,"v":53},{"t":0.169,"v":27},{"t":0.174,"v":37},{"t":0.179,"v":32},{"t":0.184,"v":53},{"t":0.189,"v":37},{"t":0.193,"v":32},{"t":0.199,"v":37},{"t":0.205,"v":96},{"t":0.209,"v":80},{"t":0.214,"v":144},{"t":0.220,"v":139},{"t":0.226,"v":139},{"t":0.230,"v":176},{"t":0.235,"v":133},{"t":0.241,"v":123},{"t":0.246,"v":96},{"t":0.250,"v":85},{"t":0.255,"v":75},{"t":0.260,"v":85},{"t":0.265,"v":96},{"t":0.270,"v":80},{"t":0.274,"v":80},{"t":0.279,"v":53},{"t":0.284,"v":80},{"t":0.289,"v":48},{"t":0.293,"v":69},{"t":0.298,"v":53},{"t":0.303,"v":85},{"t":0.308,"v":69},{"t":0.312,"v":48},{"t":0.317,"v":91},{"t":0.322,"v":64},{"t":0.327,"v":59},{"t":0.331,"v":96},{"t":0.336,"v":75},{"t":0.341,"v":85},{"t":0.346,"v":48},{"t":0.350,"v":133},{"t":0.355,"v":187},{"t":0.360,"v":27},{"t":0.365,"v":176},{"t":0.370,"v":69},{"t":0.374,"v":133},{"t":0.379,"v":27},{"t":0.384,"v":123},{"t":0.388,"v":37},{"t":0.391,"v":117},{"t":0.396,"v":43},{"t":0.401,"v":11},{"t":0.407,"v":21},{"t":0.411,"v":149},{"t":0.415,"v":32},{"t":0.421,"v":16},{"t":0.427,"v":11},{"t":0.431,"v":21},{"t":0.436,"v":59},{"t":0.442,"v":53},{"t":0.447,"v":37},{"t":0.452,"v":21},{"t":0.458,"v":5},{"t":0.464,"v":0},{"t":0.550,"v":0},{"t":0.554,"v":16},{"t":0.560,"v":11},{"t":0.565,"v":27},{"t":0.570,"v":5},{"t":0.576,"v":0},{"t":0.593,"v":0},{"t":0.600,"v":11},{"t":0.614,"v":5},{"t":0.624,"v":16},{"t":0.630,"v":9},{"t":0.635,"v":13},{"t":0.641,"v":2},{"t":0.645,"v":37},{"t":0.650,"v":9},{"t":0.657,"v":16},{"t":0.664,"v":13},{"t":0.670,"v":27},{"t":0.676,"v":5},{"t":0.683,"v":16},{"t":0.689,"v":27},{"t":0.692,"v":39},{"t":0.698,"v":18},{"t":0.705,"v":11},{"t":0.711,"v":27},{"t":0.717,"v":13},{"t":0.724,"v":16},{"t":0.730,"v":11},{"t":0.736,"v":13},{"t":0.743,"v":9},{"t":0.750,"v":45},{"t":0.757,"v":21},{"t":0.764,"v":5},{"t":0.771,"v":11},{"t":0.776,"v":27},{"t":0.783,"v":9},{"t":0.790,"v":5},{"t":0.800,"v":3},{"t":0.814,"v":9},{"t":0.824,"v":5},{"t":0.838,"v":2},{"t":0.852,"v":0},{"t":0.900,"v":0}],
"auc_bL":[{"t":0,"v":0.6},{"t":0.003,"v":0.64},{"t":0.007,"v":0.653},{"t":0.010,"v":0.813},{"t":0.014,"v":0.507},{"t":0.020,"v":0.493},{"t":0.033,"v":0.493},{"t":0.043,"v":0.52},{"t":0.048,"v":0.453},{"t":0.052,"v":0.547},{"t":0.057,"v":0.493},{"t":0.062,"v":0.787},{"t":0.066,"v":0.973},{"t":0.070,"v":0.64},{"t":0.074,"v":0.413},{"t":0.079,"v":0.587},{"t":0.084,"v":0.48},{"t":0.089,"v":0.667},{"t":0.093,"v":0.453},{"t":0.098,"v":0.627},{"t":0.103,"v":0.507},{"t":0.108,"v":0.587},{"t":0.112,"v":0.44},{"t":0.117,"v":0.587},{"t":0.122,"v":0.507},{"t":0.127,"v":0.56},{"t":0.131,"v":0.453},{"t":0.136,"v":0.64},{"t":0.141,"v":0.52},{"t":0.146,"v":0.24},{"t":0.150,"v":0.32},{"t":0.153,"v":0.893},{"t":0.157,"v":0.853},{"t":0.161,"v":0.613},{"t":0.165,"v":0.933},{"t":0.169,"v":0.88},{"t":0.172,"v":0.693},{"t":0.176,"v":0.813},{"t":0.180,"v":0.627},{"t":0.186,"v":0.64},{"t":0.191,"v":0.613},{"t":0.196,"v":0.52},{"t":0.201,"v":0.547},{"t":0.207,"v":0.467},{"t":0.211,"v":0.44},{"t":0.216,"v":0.453},{"t":0.222,"v":0.48},{"t":0.226,"v":0.373},{"t":0.230,"v":0.187},{"t":0.234,"v":0.387},{"t":0.239,"v":0.44},{"t":0.244,"v":0.493},{"t":0.249,"v":0.547},{"t":0.253,"v":0.56},{"t":0.258,"v":0.627},{"t":0.262,"v":0.52},{"t":0.268,"v":0.60},{"t":0.272,"v":0.653},{"t":0.277,"v":0.68},{"t":0.282,"v":0.707},{"t":0.287,"v":0.68},{"t":0.291,"v":0.547},{"t":0.296,"v":0.693},{"t":0.301,"v":0.587},{"t":0.306,"v":0.653},{"t":0.310,"v":0.507},{"t":0.315,"v":0.693},{"t":0.320,"v":0.52},{"t":0.325,"v":0.613},{"t":0.330,"v":0.507},{"t":0.334,"v":0.48},{"t":0.339,"v":0.56},{"t":0.344,"v":0.493},{"t":0.350,"v":0.267},{"t":0.353,"v":0.373},{"t":0.357,"v":0.293},{"t":0.361,"v":0.427},{"t":0.365,"v":0.32},{"t":0.370,"v":0.44},{"t":0.373,"v":0.293},{"t":0.377,"v":0.493},{"t":0.381,"v":0.36},{"t":0.385,"v":0.48},{"t":0.389,"v":0.413},{"t":0.393,"v":0.24},{"t":0.397,"v":0.507},{"t":0.401,"v":0.707},{"t":0.406,"v":0.72},{"t":0.410,"v":0.693},{"t":0.415,"v":0.467},{"t":0.420,"v":0.427},{"t":0.426,"v":0.587},{"t":0.430,"v":0.747},{"t":0.435,"v":0.88},{"t":0.440,"v":0.813},{"t":0.444,"v":0.587},{"t":0.448,"v":0.427},{"t":0.452,"v":0.427},{"t":0.458,"v":0.467},{"t":0.464,"v":0.493},{"t":0.470,"v":0.5},{"t":0.550,"v":0.5},{"t":0.553,"v":0.773},{"t":0.557,"v":0.547},{"t":0.561,"v":0.427},{"t":0.565,"v":0.5},{"t":0.576,"v":0.493},{"t":0.588,"v":0.5},{"t":0.600,"v":0.507},{"t":0.610,"v":0.485},{"t":0.619,"v":0.52},{"t":0.626,"v":0.48},{"t":0.633,"v":0.533},{"t":0.641,"v":0.453},{"t":0.648,"v":0.533},{"t":0.652,"v":0.573},{"t":0.658,"v":0.507},{"t":0.664,"v":0.587},{"t":0.669,"v":0.533},{"t":0.673,"v":0.64},{"t":0.678,"v":0.573},{"t":0.683,"v":0.653},{"t":0.688,"v":0.533},{"t":0.692,"v":0.453},{"t":0.697,"v":0.547},{"t":0.702,"v":0.48},{"t":0.707,"v":0.627},{"t":0.711,"v":0.60},{"t":0.716,"v":0.507},{"t":0.721,"v":0.653},{"t":0.727,"v":0.56},{"t":0.731,"v":0.627},{"t":0.735,"v":0.693},{"t":0.740,"v":0.547},{"t":0.745,"v":0.427},{"t":0.750,"v":0.587},{"t":0.754,"v":0.467},{"t":0.760,"v":0.573},{"t":0.765,"v":0.533},{"t":0.770,"v":0.453},{"t":0.774,"v":0.547},{"t":0.779,"v":0.60},{"t":0.784,"v":0.48},{"t":0.789,"v":0.56},{"t":0.793,"v":0.613},{"t":0.798,"v":0.533},{"t":0.803,"v":0.467},{"t":0.810,"v":0.493},{"t":0.816,"v":0.52},{"t":0.824,"v":0.493},{"t":0.833,"v":0.513},{"t":0.843,"v":0.49},{"t":0.852,"v":0.513},{"t":0.862,"v":0.493},{"t":0.871,"v":0.507},{"t":0.881,"v":0.497},{"t":0.890,"v":0.513},{"t":0.900,"v":0.5}],
"sr_bR_r":[{"t":0,"v":53},{"t":0.003,"v":53},{"t":0.008,"v":123},{"t":0.012,"v":21},{"t":0.019,"v":2},{"t":0.043,"v":0},{"t":0.052,"v":11},{"t":0.057,"v":43},{"t":0.064,"v":283},{"t":0.070,"v":96},{"t":0.074,"v":21},{"t":0.081,"v":16},{"t":0.088,"v":59},{"t":0.092,"v":43},{"t":0.098,"v":85},{"t":0.103,"v":201},{"t":0.108,"v":85},{"t":0.113,"v":16},{"t":0.119,"v":27},{"t":0.125,"v":21},{"t":0.130,"v":53},{"t":0.135,"v":11},{"t":0.139,"v":151},{"t":0.144,"v":27},{"t":0.149,"v":21},{"t":0.153,"v":197},{"t":0.157,"v":64},{"t":0.162,"v":155},{"t":0.167,"v":64},{"t":0.172,"v":32},{"t":0.177,"v":80},{"t":0.183,"v":16},{"t":0.188,"v":32},{"t":0.193,"v":11},{"t":0.199,"v":27},{"t":0.205,"v":37},{"t":0.210,"v":16},{"t":0.216,"v":27},{"t":0.222,"v":21},{"t":0.228,"v":13},{"t":0.233,"v":37},{"t":0.239,"v":21},{"t":0.245,"v":16},{"t":0.250,"v":27},{"t":0.256,"v":32},{"t":0.262,"v":21},{"t":0.268,"v":37},{"t":0.273,"v":48},{"t":0.279,"v":55},{"t":0.285,"v":37},{"t":0.290,"v":45},{"t":0.296,"v":27},{"t":0.302,"v":37},{"t":0.306,"v":64},{"t":0.310,"v":48},{"t":0.315,"v":61},{"t":0.320,"v":43},{"t":0.325,"v":59},{"t":0.330,"v":37},{"t":0.334,"v":80},{"t":0.339,"v":64},{"t":0.344,"v":32},{"t":0.348,"v":72},{"t":0.352,"v":43},{"t":0.357,"v":75},{"t":0.362,"v":27},{"t":0.367,"v":53},{"t":0.371,"v":27},{"t":0.376,"v":64},{"t":0.381,"v":43},{"t":0.386,"v":21},{"t":0.390,"v":53},{"t":0.395,"v":27},{"t":0.401,"v":80},{"t":0.406,"v":128},{"t":0.410,"v":27},{"t":0.415,"v":11},{"t":0.421,"v":16},{"t":0.426,"v":43},{"t":0.430,"v":219},{"t":0.435,"v":75},{"t":0.440,"v":27},{"t":0.445,"v":16},{"t":0.450,"v":5},{"t":0.457,"v":0},{"t":0.548,"v":0},{"t":0.553,"v":139},{"t":0.558,"v":27},{"t":0.563,"v":11},{"t":0.570,"v":0},{"t":0.586,"v":2},{"t":0.595,"v":0},{"t":0.605,"v":5},{"t":0.614,"v":11},{"t":0.622,"v":0},{"t":0.629,"v":16},{"t":0.635,"v":5},{"t":0.641,"v":11},{"t":0.646,"v":0},{"t":0.652,"v":32},{"t":0.657,"v":5},{"t":0.663,"v":21},{"t":0.669,"v":61},{"t":0.673,"v":21},{"t":0.679,"v":59},{"t":0.684,"v":11},{"t":0.689,"v":37},{"t":0.693,"v":21},{"t":0.698,"v":64},{"t":0.703,"v":21},{"t":0.709,"v":59},{"t":0.714,"v":16},{"t":0.719,"v":27},{"t":0.725,"v":21},{"t":0.730,"v":80},{"t":0.736,"v":27},{"t":0.742,"v":21},{"t":0.748,"v":16},{"t":0.753,"v":27},{"t":0.761,"v":16},{"t":0.767,"v":48},{"t":0.772,"v":53},{"t":0.778,"v":11},{"t":0.784,"v":11},{"t":0.790,"v":21},{"t":0.793,"v":43},{"t":0.799,"v":11},{"t":0.807,"v":0},{"t":0.819,"v":9},{"t":0.826,"v":2},{"t":0.838,"v":5},{"t":0.848,"v":0},{"t":0.862,"v":2},{"t":0.871,"v":0},{"t":0.886,"v":2},{"t":0.900,"v":0}],
"sr_bR_b":[{"t":0,"v":19},{"t":0.003,"v":19},{"t":0.010,"v":16},{"t":0.014,"v":9},{"t":0.019,"v":0},{"t":0.043,"v":0},{"t":0.049,"v":32},{"t":0.052,"v":11},{"t":0.058,"v":16},{"t":0.064,"v":27},{"t":0.069,"v":105},{"t":0.073,"v":32},{"t":0.079,"v":27},{"t":0.085,"v":9},{"t":0.090,"v":21},{"t":0.096,"v":37},{"t":0.103,"v":162},{"t":0.108,"v":27},{"t":0.112,"v":5},{"t":0.117,"v":11},{"t":0.123,"v":21},{"t":0.129,"v":11},{"t":0.134,"v":27},{"t":0.138,"v":109},{"t":0.143,"v":37},{"t":0.148,"v":55},{"t":0.152,"v":32},{"t":0.157,"v":32},{"t":0.163,"v":27},{"t":0.169,"v":21},{"t":0.174,"v":23},{"t":0.180,"v":0},{"t":0.186,"v":21},{"t":0.191,"v":23},{"t":0.196,"v":11},{"t":0.201,"v":43},{"t":0.207,"v":37},{"t":0.212,"v":43},{"t":0.218,"v":32},{"t":0.224,"v":37},{"t":0.230,"v":27},{"t":0.235,"v":32},{"t":0.239,"v":45},{"t":0.244,"v":27},{"t":0.249,"v":21},{"t":0.254,"v":27},{"t":0.260,"v":21},{"t":0.266,"v":32},{"t":0.271,"v":37},{"t":0.277,"v":21},{"t":0.283,"v":37},{"t":0.289,"v":27},{"t":0.294,"v":43},{"t":0.300,"v":21},{"t":0.306,"v":45},{"t":0.311,"v":53},{"t":0.316,"v":69},{"t":0.321,"v":37},{"t":0.326,"v":75},{"t":0.331,"v":43},{"t":0.336,"v":85},{"t":0.341,"v":59},{"t":0.346,"v":75},{"t":0.350,"v":37},{"t":0.354,"v":48},{"t":0.359,"v":80},{"t":0.363,"v":119},{"t":0.368,"v":32},{"t":0.372,"v":64},{"t":0.377,"v":32},{"t":0.382,"v":109},{"t":0.387,"v":27},{"t":0.391,"v":64},{"t":0.395,"v":16},{"t":0.400,"v":53},{"t":0.405,"v":91},{"t":0.409,"v":16},{"t":0.414,"v":11},{"t":0.420,"v":21},{"t":0.426,"v":11},{"t":0.431,"v":48},{"t":0.436,"v":37},{"t":0.441,"v":21},{"t":0.446,"v":11},{"t":0.450,"v":5},{"t":0.457,"v":0},{"t":0.548,"v":0},{"t":0.553,"v":11},{"t":0.559,"v":27},{"t":0.565,"v":11},{"t":0.570,"v":0},{"t":0.605,"v":0},{"t":0.612,"v":9},{"t":0.619,"v":16},{"t":0.624,"v":11},{"t":0.630,"v":19},{"t":0.636,"v":11},{"t":0.643,"v":27},{"t":0.648,"v":11},{"t":0.654,"v":9},{"t":0.660,"v":23},{"t":0.666,"v":11},{"t":0.671,"v":17},{"t":0.677,"v":11},{"t":0.684,"v":23},{"t":0.689,"v":32},{"t":0.694,"v":16},{"t":0.700,"v":27},{"t":0.706,"v":11},{"t":0.712,"v":32},{"t":0.717,"v":21},{"t":0.724,"v":11},{"t":0.730,"v":17},{"t":0.738,"v":11},{"t":0.744,"v":16},{"t":0.750,"v":34},{"t":0.755,"v":21},{"t":0.761,"v":9},{"t":0.769,"v":6},{"t":0.776,"v":2},{"t":0.786,"v":7},{"t":0.795,"v":2},{"t":0.810,"v":0},{"t":0.833,"v":3},{"t":0.848,"v":5},{"t":0.854,"v":0},{"t":0.900,"v":0}],
"auc_bR":[{"t":0,"v":0.6},{"t":0.004,"v":0.62},{"t":0.008,"v":0.8},{"t":0.012,"v":0.5},{"t":0.030,"v":0.5},{"t":0.045,"v":0.48},{"t":0.050,"v":0.55},{"t":0.055,"v":0.47},{"t":0.060,"v":0.6},{"t":0.065,"v":0.93},{"t":0.070,"v":0.55},{"t":0.075,"v":0.45},{"t":0.080,"v":0.58},{"t":0.085,"v":0.47},{"t":0.090,"v":0.6},{"t":0.095,"v":0.52},{"t":0.100,"v":0.65},{"t":0.105,"v":0.45},{"t":0.110,"v":0.55},{"t":0.115,"v":0.5},{"t":0.120,"v":0.6},{"t":0.125,"v":0.45},{"t":0.130,"v":0.55},{"t":0.135,"v":0.62},{"t":0.140,"v":0.48},{"t":0.145,"v":0.55},{"t":0.150,"v":0.62},{"t":0.155,"v":0.78},{"t":0.160,"v":0.85},{"t":0.163,"v":0.7},{"t":0.166,"v":0.76},{"t":0.170,"v":0.62},{"t":0.175,"v":0.55},{"t":0.180,"v":0.6},{"t":0.190,"v":0.52},{"t":0.200,"v":0.57},{"t":0.210,"v":0.5},{"t":0.220,"v":0.47},{"t":0.230,"v":0.53},{"t":0.240,"v":0.48},{"t":0.250,"v":0.45},{"t":0.260,"v":0.5},{"t":0.270,"v":0.44},{"t":0.280,"v":0.48},{"t":0.290,"v":0.43},{"t":0.300,"v":0.47},{"t":0.310,"v":0.41},{"t":0.320,"v":0.45},{"t":0.330,"v":0.4},{"t":0.340,"v":0.44},{"t":0.350,"v":0.36},{"t":0.355,"v":0.42},{"t":0.360,"v":0.33},{"t":0.365,"v":0.45},{"t":0.370,"v":0.38},{"t":0.375,"v":0.5},{"t":0.380,"v":0.4},{"t":0.385,"v":0.47},{"t":0.390,"v":0.42},{"t":0.395,"v":0.55},{"t":0.400,"v":0.45},{"t":0.405,"v":0.5},{"t":0.410,"v":0.43},{"t":0.415,"v":0.55},{"t":0.420,"v":0.45},{"t":0.425,"v":0.5},{"t":0.430,"v":0.7},{"t":0.433,"v":0.85},{"t":0.437,"v":0.6},{"t":0.440,"v":0.47},{"t":0.445,"v":0.45},{"t":0.450,"v":0.48},{"t":0.460,"v":0.5},{"t":0.548,"v":0.5},{"t":0.553,"v":0.75},{"t":0.557,"v":0.55},{"t":0.562,"v":0.44},{"t":0.570,"v":0.5},{"t":0.590,"v":0.49},{"t":0.610,"v":0.51},{"t":0.620,"v":0.48},{"t":0.630,"v":0.53},{"t":0.640,"v":0.47},{"t":0.650,"v":0.55},{"t":0.660,"v":0.46},{"t":0.665,"v":0.58},{"t":0.670,"v":0.48},{"t":0.680,"v":0.6},{"t":0.690,"v":0.47},{"t":0.695,"v":0.58},{"t":0.700,"v":0.45},{"t":0.710,"v":0.6},{"t":0.715,"v":0.5},{"t":0.720,"v":0.58},{"t":0.730,"v":0.47},{"t":0.740,"v":0.6},{"t":0.745,"v":0.5},{"t":0.750,"v":0.55},{"t":0.760,"v":0.46},{"t":0.770,"v":0.56},{"t":0.780,"v":0.48},{"t":0.790,"v":0.54},{"t":0.800,"v":0.5},{"t":0.810,"v":0.52},{"t":0.830,"v":0.49},{"t":0.850,"v":0.51},{"t":0.870,"v":0.5},{"t":0.900,"v":0.5}]
},
"spacing":-2,
"vconcat":[
{"title":{"text":"ANECHOIC","fontSize":28,"anchor":"middle","dx":40,"offset":-3},
 "vconcat":[{
 "title":{"text":"a","anchor":"start","fontSize":22,"offset":-14},
 "columns":2,"bounds":"flush","spacing":{"row":50,"column":32},
 "concat":[
  {"width":315,"height":125,"title":{"text":"Non-adapting inputs to CN","frame":"group","offset":20},
   "encoding":{"x":{"field":"t","type":"quantitative","scale":{"domain":[0,0.9],"nice":false,"zero":false},"axis":{"values":[0,0.2,0.4,0.6,0.8],"labels":false,"title":null}}},
   "layer":[
    {"data":{"name":"pink_aL"},"mark":{"type":"rect","color":"#ffcccc"},"encoding":{"x2":{"field":"e"}}},
    {"data":{"name":"dots_a"},"mark":{"type":"square","size":3,"color":"#777777","opacity":0.9},"encoding":{"y":{"field":"v","type":"quantitative","scale":{"domain":[-650,650],"nice":false,"zero":false},"axis":{"values":[-500,0,500],"labelExpr":"''+datum.value","title":["ITD (μs)","amplitude (a.u.)"]}}}},
    {"data":{"name":"itd_a"},"mark":{"type":"line","color":"#7f7f7f","strokeWidth":1,"clip":true},"encoding":{"y":{"field":"v","type":"quantitative","scale":{"domain":[-650,650],"nice":false,"zero":false}}}},
    {"data":{"name":"wave_a"},"mark":{"type":"area","color":"#ff0000","clip":true},"encoding":{"y":{"field":"r1","type":"quantitative","scale":{"domain":[-650,650],"nice":false,"zero":false}},"y2":{"field":"r0"}}},
    {"data":{"name":"wave_a"},"mark":{"type":"area","color":"#0000ff","clip":true},"encoding":{"y":{"field":"b1","type":"quantitative","scale":{"domain":[-650,650],"nice":false,"zero":false}},"y2":{"field":"b0"}}},
    {"data":{"name":"wave_a"},"mark":{"type":"line","color":"#0000ff","strokeWidth":1},"encoding":{"y":{"datum":0,"type":"quantitative","scale":{"domain":[-650,650],"nice":false,"zero":false}}}}
   ]},
  {"width":315,"height":125,"title":{"text":"Adapting inputs to CN","frame":"group","offset":20},
   "encoding":{"x":{"field":"t","type":"quantitative","scale":{"domain":[0,0.9],"nice":false,"zero":false},"axis":{"values":[0,0.2,0.4,0.6,0.8],"labels":false,"title":null}}},
   "layer":[
    {"data":{"name":"pink_aR"},"mark":{"type":"rect","color":"#ffcccc"},"encoding":{"x2":{"field":"e"}}},
    {"data":{"name":"dots_a"},"mark":{"type":"square","size":3,"color":"#777777","opacity":0.9},"encoding":{"y":{"field":"v","type":"quantitative","scale":{"domain":[-650,650],"nice":false,"zero":false},"axis":{"values":[-500,0,500],"labels":false,"title":null}}}},
    {"data":{"name":"itd_a"},"mark":{"type":"line","color":"#7f7f7f","strokeWidth":1,"clip":true},"encoding":{"y":{"field":"v","type":"quantitative","scale":{"domain":[-650,650],"nice":false,"zero":false}}}},
    {"data":{"name":"wave_a"},"mark":{"type":"area","color":"#ff0000","clip":true},"encoding":{"y":{"field":"r1","type":"quantitative","scale":{"domain":[-650,650],"nice":false,"zero":false}},"y2":{"field":"r0"}}},
    {"data":{"name":"wave_a"},"mark":{"type":"area","color":"#0000ff","clip":true},"encoding":{"y":{"field":"b1","type":"quantitative","scale":{"domain":[-650,650],"nice":false,"zero":false}},"y2":{"field":"b0"}}},
    {"data":{"name":"wave_a"},"mark":{"type":"line","color":"#0000ff","strokeWidth":1},"encoding":{"y":{"datum":0,"type":"quantitative","scale":{"domain":[-650,650],"nice":false,"zero":false}}}}
   ]},
  {"width":315,"height":125,
   "encoding":{"x":{"field":"t","type":"quantitative","scale":{"domain":[0,0.9],"nice":false,"zero":false},"axis":{"values":[0,0.2,0.4,0.6,0.8],"labels":false,"title":null}}},
   "layer":[
    {"data":{"name":"pink_aL"},"mark":{"type":"rect","color":"#ffcccc"},"encoding":{"x2":{"field":"e"}}},
    {"data":{"name":"sr_aL_r"},"mark":{"type":"line","color":"#ff0000","strokeWidth":1.6,"clip":true},"encoding":{"y":{"field":"v","type":"quantitative","scale":{"domain":[0,400],"nice":false},"axis":{"values":[0,200,400],"title":"Mean SR (Hz)"}}}},
    {"data":{"name":"sr_aL_b"},"mark":{"type":"line","color":"#0000ff","strokeWidth":1.6,"clip":true},"encoding":{"y":{"field":"v","type":"quantitative","scale":{"domain":[0,400],"nice":false}}}}
   ]},
  {"width":315,"height":125,
   "encoding":{"x":{"field":"t","type":"quantitative","scale":{"domain":[0,0.9],"nice":false,"zero":false},"axis":{"values":[0,0.2,0.4,0.6,0.8],"labels":false,"title":null}}},
   "layer":[
    {"data":{"name":"pink_aR"},"mark":{"type":"rect","color":"#ffcccc"},"encoding":{"x2":{"field":"e"}}},
    {"data":{"name":"sr_aR_r"},"mark":{"type":"line","color":"#ff0000","strokeWidth":1.6,"clip":true},"encoding":{"y":{"field":"v","type":"quantitative","scale":{"domain":[0,400],"nice":false},"axis":{"values":[0,200,400],"labels":false,"title":null}}}},
    {"data":{"name":"sr_aR_b"},"mark":{"type":"line","color":"#0000ff","strokeWidth":1.6,"clip":true},"encoding":{"y":{"field":"v","type":"quantitative","scale":{"domain":[0,400],"nice":false}}}}
   ]},
  {"width":315,"height":125,
   "encoding":{"x":{"field":"t","type":"quantitative","scale":{"domain":[0,0.9],"nice":false,"zero":false},"axis":{"values":[0,0.2,0.4,0.6,0.8],"format":"~g","title":"Time (s)"}}},
   "layer":[
    {"data":{"name":"pink_aL"},"mark":{"type":"rect","color":"#ffcccc"},"encoding":{"x2":{"field":"e"}}},
    {"data":{"name":"auc_aL"},"mark":{"type":"line","color":"#808080","strokeWidth":1},"encoding":{"y":{"datum":0.5,"type":"quantitative","scale":{"domain":[0,1],"nice":false},"axis":{"values":[0,0.5,1],"format":"~g","title":"AUC trial"}}}},
    {"data":{"name":"auc_aL"},"mark":{"type":"line","color":"#ff0000","strokeWidth":1.5,"strokeDash":[6,4]},"encoding":{"y":{"datum":0.75,"type":"quantitative","scale":{"domain":[0,1],"nice":false}}}},
    {"data":{"name":"auc_aL"},"mark":{"type":"line","color":"#0000ff","strokeWidth":1.5,"strokeDash":[6,4]},"encoding":{"y":{"datum":0.25,"type":"quantitative","scale":{"domain":[0,1],"nice":false}}}},
    {"data":{"name":"auc_aL"},"mark":{"type":"line","color":"#000000","strokeWidth":2.5,"clip":true},"encoding":{"y":{"field":"v","type":"quantitative","scale":{"domain":[0,1],"nice":false}}}}
   ]},
  {"width":315,"height":125,
   "encoding":{"x":{"field":"t","type":"quantitative","scale":{"domain":[0,0.9],"nice":false,"zero":false},"axis":{"values":[0,0.2,0.4,0.6,0.8],"format":"~g","title":"Time (s)"}}},
   "layer":[
    {"data":{"name":"pink_aR"},"mark":{"type":"rect","color":"#ffcccc"},"encoding":{"x2":{"field":"e"}}},
    {"data":{"name":"auc_aR"},"mark":{"type":"line","color":"#808080","strokeWidth":1},"encoding":{"y":{"datum":0.5,"type":"quantitative","scale":{"domain":[0,1],"nice":false},"axis":{"values":[0,0.5,1],"labels":false,"title":null}}}},
    {"data":{"name":"auc_aR"},"mark":{"type":"line","color":"#ff0000","strokeWidth":1.5,"strokeDash":[6,4]},"encoding":{"y":{"datum":0.75,"type":"quantitative","scale":{"domain":[0,1],"nice":false}}}},
    {"data":{"name":"auc_aR"},"mark":{"type":"line","color":"#0000ff","strokeWidth":1.5,"strokeDash":[6,4]},"encoding":{"y":{"datum":0.25,"type":"quantitative","scale":{"domain":[0,1],"nice":false}}}},
    {"data":{"name":"auc_aR"},"mark":{"type":"line","color":"#000000","strokeWidth":2.5,"clip":true},"encoding":{"y":{"field":"v","type":"quantitative","scale":{"domain":[0,1],"nice":false}}}}
   ]}
 ]}]},
{"title":{"text":"REVERBERANT","fontSize":28,"anchor":"middle","dx":40},
 "vconcat":[{
 "title":{"text":"b","anchor":"start","fontSize":22,"offset":12},
 "columns":2,"bounds":"flush","spacing":{"row":50,"column":32},
 "concat":[
  {"width":315,"height":125,"title":{"text":"Non-adapting inputs to CN","frame":"group","offset":20},
   "encoding":{"x":{"field":"t","type":"quantitative","scale":{"domain":[0,0.9],"nice":false,"zero":false},"axis":{"values":[0,0.2,0.4,0.6,0.8],"labels":false,"title":null}}},
   "layer":[
    {"data":{"name":"pink_bL"},"mark":{"type":"rect","color":"#ffcccc"},"encoding":{"x2":{"field":"e"}}},
    {"data":{"name":"cyan_bL"},"mark":{"type":"rect","color":"#4dbeee"},"encoding":{"x2":{"field":"e"}}},
    {"data":{"name":"itd_b_band"},"mark":{"type":"area","color":"#7f7f7f","opacity":0.45,"clip":true},"encoding":{"detail":{"field":"g"},"y":{"field":"hi","type":"quantitative","scale":{"domain":[-650,650],"nice":false,"zero":false},"axis":{"values":[-500,0,500],"labelExpr":"''+datum.value","title":["ITD (μs)","amplitude (a.u.)"]}},"y2":{"field":"lo"}}},
    {"data":{"name":"itd_b_seg"},"mark":{"type":"line","color":"#7f7f7f","strokeWidth":1,"clip":true},"encoding":{"detail":{"field":"g"},"y":{"field":"v","type":"quantitative","scale":{"domain":[-650,650],"nice":false,"zero":false}}}},
    {"data":{"name":"wave_b"},"mark":{"type":"area","color":"#0000ff","clip":true},"encoding":{"y":{"field":"b1","type":"quantitative","scale":{"domain":[-650,650],"nice":false,"zero":false}},"y2":{"field":"b0"}}},
    {"data":{"name":"wave_b"},"mark":{"type":"area","color":"#ff0000","clip":true},"encoding":{"y":{"field":"r1","type":"quantitative","scale":{"domain":[-650,650],"nice":false,"zero":false}},"y2":{"field":"r0"}}},
    {"data":{"name":"wave_b"},"mark":{"type":"line","color":"#ff3333","strokeWidth":1},"encoding":{"y":{"datum":0,"type":"quantitative","scale":{"domain":[-650,650],"nice":false,"zero":false}}}}
   ]},
  {"width":315,"height":125,"title":{"text":"Adapting inputs to CN","frame":"group","offset":20},
   "encoding":{"x":{"field":"t","type":"quantitative","scale":{"domain":[0,0.9],"nice":false,"zero":false},"axis":{"values":[0,0.2,0.4,0.6,0.8],"labels":false,"title":null}}},
   "layer":[
    {"data":{"name":"pink_bR"},"mark":{"type":"rect","color":"#ffcccc"},"encoding":{"x2":{"field":"e"}}},
    {"data":{"name":"itd_b_band"},"mark":{"type":"area","color":"#7f7f7f","opacity":0.45,"clip":true},"encoding":{"detail":{"field":"g"},"y":{"field":"hi","type":"quantitative","scale":{"domain":[-650,650],"nice":false,"zero":false},"axis":{"values":[-500,0,500],"labels":false,"title":null}},"y2":{"field":"lo"}}},
    {"data":{"name":"itd_b_seg"},"mark":{"type":"line","color":"#7f7f7f","strokeWidth":1,"clip":true},"encoding":{"detail":{"field":"g"},"y":{"field":"v","type":"quantitative","scale":{"domain":[-650,650],"nice":false,"zero":false}}}},
    {"data":{"name":"wave_b"},"mark":{"type":"area","color":"#0000ff","clip":true},"encoding":{"y":{"field":"b1","type":"quantitative","scale":{"domain":[-650,650],"nice":false,"zero":false}},"y2":{"field":"b0"}}},
    {"data":{"name":"wave_b"},"mark":{"type":"area","color":"#ff0000","clip":true},"encoding":{"y":{"field":"r1","type":"quantitative","scale":{"domain":[-650,650],"nice":false,"zero":false}},"y2":{"field":"r0"}}},
    {"data":{"name":"wave_b"},"mark":{"type":"line","color":"#ff3333","strokeWidth":1},"encoding":{"y":{"datum":0,"type":"quantitative","scale":{"domain":[-650,650],"nice":false,"zero":false}}}}
   ]},
  {"width":315,"height":125,
   "encoding":{"x":{"field":"t","type":"quantitative","scale":{"domain":[0,0.9],"nice":false,"zero":false},"axis":{"values":[0,0.2,0.4,0.6,0.8],"labels":false,"title":null}}},
   "layer":[
    {"data":{"name":"pink_bL"},"mark":{"type":"rect","color":"#ffcccc"},"encoding":{"x2":{"field":"e"}}},
    {"data":{"name":"cyan_bL"},"mark":{"type":"rect","color":"#4dbeee"},"encoding":{"x2":{"field":"e"}}},
    {"data":{"name":"sr_bL_r"},"mark":{"type":"line","color":"#ff0000","strokeWidth":1.6,"clip":true},"encoding":{"y":{"field":"v","type":"quantitative","scale":{"domain":[0,400],"nice":false},"axis":{"values":[0,200,400],"title":"Mean SR (Hz)"}}}},
    {"data":{"name":"sr_bL_b"},"mark":{"type":"line","color":"#0000ff","strokeWidth":1.6,"clip":true},"encoding":{"y":{"field":"v","type":"quantitative","scale":{"domain":[0,400],"nice":false}}}}
   ]},
  {"width":315,"height":125,
   "encoding":{"x":{"field":"t","type":"quantitative","scale":{"domain":[0,0.9],"nice":false,"zero":false},"axis":{"values":[0,0.2,0.4,0.6,0.8],"labels":false,"title":null}}},
   "layer":[
    {"data":{"name":"pink_bR"},"mark":{"type":"rect","color":"#ffcccc"},"encoding":{"x2":{"field":"e"}}},
    {"data":{"name":"sr_bR_r"},"mark":{"type":"line","color":"#ff0000","strokeWidth":1.6,"clip":true},"encoding":{"y":{"field":"v","type":"quantitative","scale":{"domain":[0,400],"nice":false},"axis":{"values":[0,200,400],"labels":false,"title":null}}}},
    {"data":{"name":"sr_bR_b"},"mark":{"type":"line","color":"#0000ff","strokeWidth":1.6,"clip":true},"encoding":{"y":{"field":"v","type":"quantitative","scale":{"domain":[0,400],"nice":false}}}}
   ]},
  {"width":315,"height":125,
   "encoding":{"x":{"field":"t","type":"quantitative","scale":{"domain":[0,0.9],"nice":false,"zero":false},"axis":{"values":[0,0.2,0.4,0.6,0.8],"format":"~g","title":"Time (s)"}}},
   "layer":[
    {"data":{"name":"pink_bL"},"mark":{"type":"rect","color":"#ffcccc"},"encoding":{"x2":{"field":"e"}}},
    {"data":{"name":"cyan_bL"},"mark":{"type":"rect","color":"#4dbeee"},"encoding":{"x2":{"field":"e"}}},
    {"data":{"name":"auc_bL"},"mark":{"type":"line","color":"#808080","strokeWidth":1},"encoding":{"y":{"datum":0.5,"type":"quantitative","scale":{"domain":[0,1],"nice":false},"axis":{"values":[0,0.5,1],"format":"~g","title":"AUC trial"}}}},
    {"data":{"name":"auc_bL"},"mark":{"type":"line","color":"#ff0000","strokeWidth":1.5,"strokeDash":[6,4]},"encoding":{"y":{"datum":0.75,"type":"quantitative","scale":{"domain":[0,1],"nice":false}}}},
    {"data":{"name":"auc_bL"},"mark":{"type":"line","color":"#0000ff","strokeWidth":1.5,"strokeDash":[6,4]},"encoding":{"y":{"datum":0.25,"type":"quantitative","scale":{"domain":[0,1],"nice":false}}}},
    {"data":{"name":"auc_bL"},"mark":{"type":"line","color":"#000000","strokeWidth":2.5,"clip":true},"encoding":{"y":{"field":"v","type":"quantitative","scale":{"domain":[0,1],"nice":false}}}}
   ]},
  {"width":315,"height":125,
   "encoding":{"x":{"field":"t","type":"quantitative","scale":{"domain":[0,0.9],"nice":false,"zero":false},"axis":{"values":[0,0.2,0.4,0.6,0.8],"format":"~g","title":"Time (s)"}}},
   "layer":[
    {"data":{"name":"pink_bR"},"mark":{"type":"rect","color":"#ffcccc"},"encoding":{"x2":{"field":"e"}}},
    {"data":{"name":"auc_bR"},"mark":{"type":"line","color":"#808080","strokeWidth":1},"encoding":{"y":{"datum":0.5,"type":"quantitative","scale":{"domain":[0,1],"nice":false},"axis":{"values":[0,0.5,1],"labels":false,"title":null}}}},
    {"data":{"name":"auc_bR"},"mark":{"type":"line","color":"#ff0000","strokeWidth":1.5,"strokeDash":[6,4]},"encoding":{"y":{"datum":0.75,"type":"quantitative","scale":{"domain":[0,1],"nice":false}}}},
    {"data":{"name":"auc_bR"},"mark":{"type":"line","color":"#0000ff","strokeWidth":1.5,"strokeDash":[6,4]},"encoding":{"y":{"datum":0.25,"type":"quantitative","scale":{"domain":[0,1],"nice":false}}}},
    {"data":{"name":"auc_bR"},"mark":{"type":"line","color":"#000000","strokeWidth":2.5,"clip":true},"encoding":{"y":{"field":"v","type":"quantitative","scale":{"domain":[0,1],"nice":false}}}}
   ]}
 ]}]}
]
}
